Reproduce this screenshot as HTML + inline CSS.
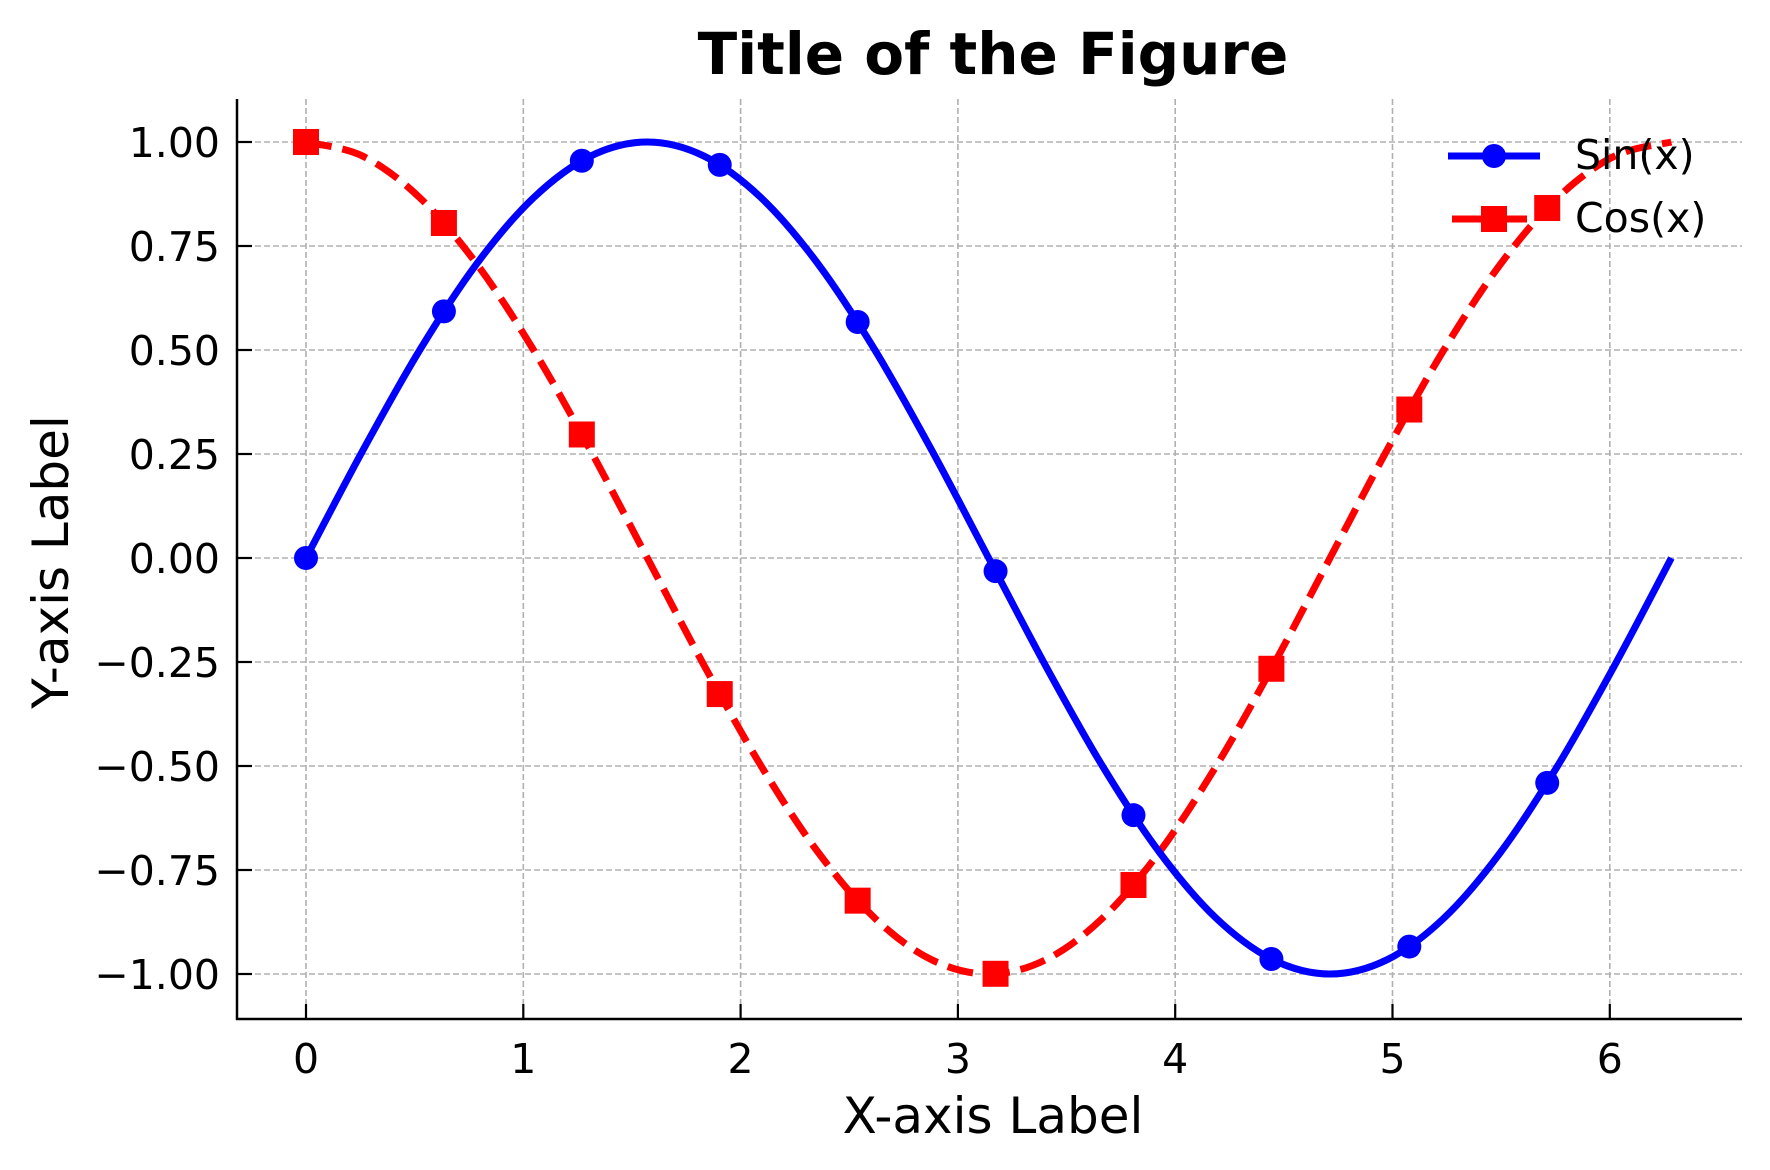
<!DOCTYPE html>
<html><head><meta charset="utf-8"><style>
html,body{margin:0;padding:0;background:#fff}
svg{display:block;font-family:"DejaVu Sans","Liberation Sans",sans-serif}
</style></head><body>
<svg id="chart" width="1770" height="1170" viewBox="0 0 1770 1170">
<g id="grid"></g>
<g id="series"></g>
<g id="axes"></g>
<text x="993" y="74" text-anchor="middle" font-size="58" font-weight="bold">Title of the Figure</text>
<text x="993" y="1133" text-anchor="middle" font-size="50">X-axis Label</text>
<text transform="translate(68,562) rotate(-90)" text-anchor="middle" font-size="50">Y-axis Label</text>
<g>
<g>
<line x1="1448" y1="156" x2="1540" y2="156" stroke="#0000ff" stroke-width="7"/>
<circle cx="1494" cy="156" r="12" fill="#0000ff"/>
<text x="1575" y="169" font-size="41">Sin(x)</text>
</g>
<g>
<line x1="1452" y1="219" x2="1527" y2="219" stroke="#ff0000" stroke-width="7"/>
<rect x="1481" y="206" width="26" height="26" fill="#ff0000"/>
<text x="1575" y="232" font-size="41">Cos(x)</text>
</g>
</g>
</svg>
<script>
// data
const curveX = [0,0.2618,0.5236,0.7854,1.0472,1.309,1.5708,1.8326,2.0944,2.3562,2.618,2.8798,3.1416,3.4034,3.6652,3.927,4.1888,4.4506,4.7124,4.9742,5.236,5.4978,5.7596,6.0214,6.2832];
const sinCurve = [0,0.2588,0.5,0.7071,0.866,0.9659,1,0.9659,0.866,0.7071,0.5,0.2588,0,-0.2588,-0.5,-0.7071,-0.866,-0.9659,-1,-0.9659,-0.866,-0.7071,-0.5,-0.2588,0];
const cosCurve = [1,0.9659,0.866,0.7071,0.5,0.2588,0,-0.2588,-0.5,-0.7071,-0.866,-0.9659,-1,-0.9659,-0.866,-0.7071,-0.5,-0.2588,0,0.2588,0.5,0.7071,0.866,0.9659,1];
const markerX = [0,0.6347,1.2693,1.904,2.5387,3.1733,3.808,4.4427,5.0773,5.712];
const sinMarkers = [0,0.5929,0.9549,0.945,0.5673,-0.0317,-0.6182,-0.9639,-0.9341,-0.5406];
const cosMarkers = [1,0.8053,0.2969,-0.3271,-0.8237,-0.9995,-0.7861,-0.2663,0.3569,0.8413];
const xTicks = [0,1,2,3,4,5,6];
const yTicks = [1,0.75,0.5,0.25,0,-0.25,-0.5,-0.75,-1];
const yTickLabels = ["1.00","0.75","0.50","0.25","0.00","\u22120.25","\u22120.50","\u22120.75","\u22121.00"];

const NS="http://www.w3.org/2000/svg";
const L=237,R=1742,T=99,B=1019;
const sx=v=>306+v*217.3;
const sy=v=>558-v*416;
function mk(tag,attrs,parent){const e=document.createElementNS(NS,tag);for(const k in attrs)e.setAttribute(k,attrs[k]);parent.appendChild(e);return e;}
const grid=document.getElementById('grid'),series=document.getElementById('series'),axes=document.getElementById('axes');
xTicks.forEach(t=>{
  const g=mk('line',{x1:sx(t),x2:sx(t),y1:T,y2:B,stroke:'#b0b0b0','stroke-width':1.6,'stroke-dasharray':'6,3'},grid);
  
  
  const tk=mk('line',{x1:sx(t),x2:sx(t),y1:B,y2:B-15,stroke:'#000','stroke-width':2.2},axes);
  
  
  const lb=mk('text',{x:sx(t),y:1073,'text-anchor':'middle','font-size':41},axes);
  lb.textContent=String(t);
  
  
});
yTicks.forEach((t,i)=>{
  const g=mk('line',{x1:L,x2:R,y1:sy(t),y2:sy(t),stroke:'#b0b0b0','stroke-width':1.6,'stroke-dasharray':'6,3'},grid);
  
  
  const tk=mk('line',{x1:L,x2:L+15,y1:sy(t),y2:sy(t),stroke:'#000','stroke-width':2.2},axes);
  
  
  const lb=mk('text',{x:220,y:sy(t)+15,'text-anchor':'end','font-size':41},axes);
  lb.textContent=yTickLabels[i];
  
  
});
const sp1=mk('line',{x1:L,x2:L,y1:T,y2:B+1,stroke:'#000','stroke-width':2.5},axes);


const sp2=mk('line',{x1:L-1,x2:R,y1:B,y2:B,stroke:'#000','stroke-width':2.5},axes);



function spline(xs,ys){
  const p=xs.map((x,i)=>[sx(x),sy(ys[i])]);
  let d='M'+p[0][0]+','+p[0][1];
  for(let i=0;i<p.length-1;i++){
    const p0=p[Math.max(i-1,0)],p1=p[i],p2=p[i+1],p3=p[Math.min(i+2,p.length-1)];
    const c1=[p1[0]+(p2[0]-p0[0])/6,p1[1]+(p2[1]-p0[1])/6];
    const c2=[p2[0]-(p3[0]-p1[0])/6,p2[1]-(p3[1]-p1[1])/6];
    d+=' C'+c1[0]+','+c1[1]+' '+c2[0]+','+c2[1]+' '+p2[0]+','+p2[1];
  }
  return d;
}
const cosLine=mk('path',{d:spline(curveX,cosCurve),fill:'none',stroke:'#ff0000','stroke-width':7,'stroke-dasharray':'26,11'},series);


const sinLine=mk('path',{d:spline(curveX,sinCurve),fill:'none',stroke:'#0000ff','stroke-width':7},series);


markerX.forEach((x,i)=>{
  const s=mk('rect',{x:sx(x)-13,y:sy(cosMarkers[i])-13,width:26,height:26,fill:'#ff0000'},series);
  
  
});
markerX.forEach((x,i)=>{
  const c=mk('circle',{cx:sx(x),cy:sy(sinMarkers[i]),r:12,fill:'#0000ff'},series);
  
  
});
</script>
</body></html>
